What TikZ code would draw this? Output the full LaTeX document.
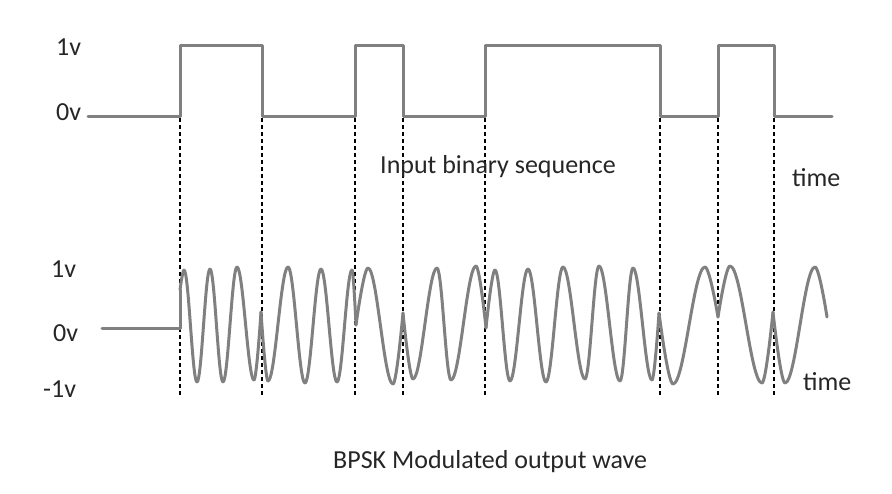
\documentclass[tikz,border=0pt]{standalone}
\usepackage{fontspec}
\setmainfont{Carlito}

\begin{document}
\begin{tikzpicture}[x=1pt,y=-1pt,
	sig/.style={line width=3pt,color=black!50,line join=round,line cap=round},
	guide/.style={line width=1.2pt,dash pattern=on 4pt off 3pt},
	lbl/.style={anchor=base west,inner sep=0pt,text=black!85,font=\fontsize{26}{30}\selectfont}]
	\useasboundingbox (0,0) rectangle (892,493);
	% input bits
	\draw[sig] (88,116) -- (180,116) -- (180,45) -- (262,45) -- (262,116) -- (355,116) -- (355,45) -- (403,45) -- (403,116) -- (485,116) -- (485,45) -- (660,45) -- (660,116) -- (718,116) -- (718,45) -- (774,45) -- (774,116) -- (832,116);
	% bit edges
	\foreach \x in {180,262,355,403,485,660,718,774}
		\draw[guide] (\x,118) -- (\x,395);
	% modulated carrier
	\draw[sig] (102,328) -- (180,328) -- (180,290);
	\foreach \x/\y/\k [remember=\x as \lx (initially 180), remember=\y as \ly (initially 290), remember=\k as \lk (initially 0)] in {
		184/270/.36, 197/382/.36, 210/269/.36, 223/382/.36, 237/267/.36, 254/380/.36, 261/312/0,
		268/381/.36, 288/267/.36, 305/383/.36, 321/269/.36, 337/382/.36, 352/270/.36, 356/325/0,
		368/268/.36, 393/384/.36, 403/313/0,
		413/379/.36, 437/268/.36, 451/380/.36, 476/266/.36, 486/328/0,
		495/270/.36, 510/381/.36, 528/269/.36, 546/382/.36, 563/267/.36, 585/379/.36, 599/266/.36, 620/381/.36, 633/268/.36, 652/380/.36, 659/313/0,
		673/384/.36, 705/267/.36, 718/317/0,
		730/266/.36, 762/383/.36, 773/312/0,
		785/383/.36, 815/267/.36, 827/317/0}
		\draw[sig] (\lx,\ly) .. controls ({\lx+\lk*(\x-\lx)},\ly) and ({\x-\k*(\x-\lx)},\y) .. (\x,\y);
	% labels
	\node[lbl] (hi1) at (56,55) {1v};
	\node[lbl] (lo1) at (56,120) {0v};
	\node[lbl] (seq) at (380,173) {Input binary sequence};
	\node[lbl] (t1) at (792,186) {time};
	\node[lbl] (hi2) at (51,277) {1v};
	\node[lbl] (mid2) at (53,341) {0v};
	\node[lbl] (lo2) at (43,397) {-1v};
	\node[lbl] (t2) at (803,390) {time};
	\node[lbl] (cap) at (333,468) {BPSK Modulated output wave};
\end{tikzpicture}
\end{document}
